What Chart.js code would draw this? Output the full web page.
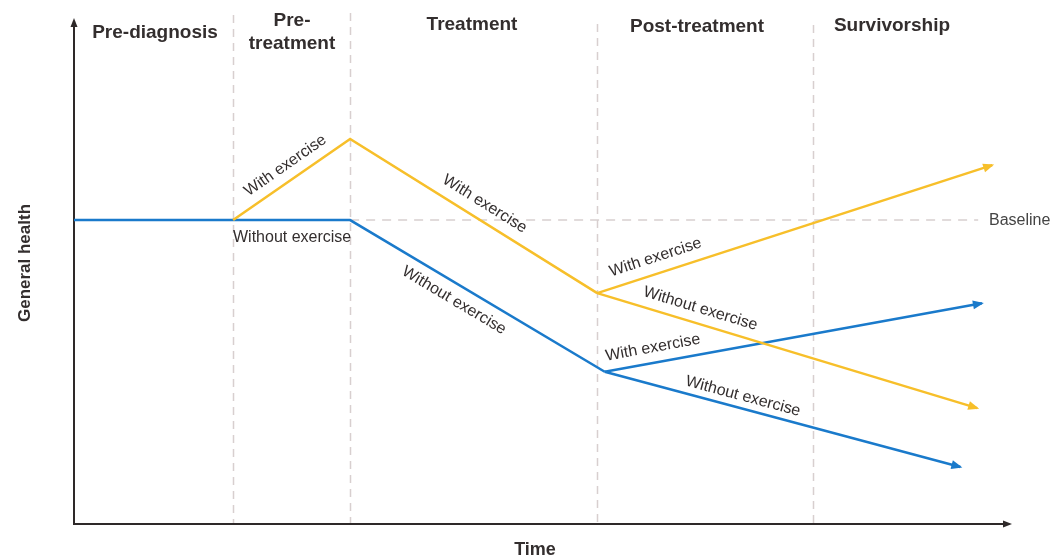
<!DOCTYPE html>
<html>
<head>
<meta charset="utf-8">
<script src="https://cdn.jsdelivr.net/npm/chart.js@4"></script>
<style>
  html, body { margin: 0; padding: 0; background: #ffffff; }
  #wrap { position: relative; width: 1052px; height: 560px; }
</style>
</head>
<body>
<div id="wrap"><canvas id="c"></canvas></div>
<script>
// ---- Data (time units 0-100, general health units 0-100) ----
const phaseNames = ['Pre-diagnosis', 'Pre-\ntreatment', 'Treatment', 'Post-treatment', 'Survivorship'];
const phaseBounds = [17, 29.5, 55.9, 79];
const baselineHealth = 60.3;
const baselineEnd = 96.6;

const yellowTime   = [17, 29.5, 55.9];
const yellowHealth = [60.3, 76.4, 45.8];
const yellowUpTime   = [55.9, 98.1];
const yellowUpHealth = [45.8, 71.2];
const yellowDownTime   = [55.9, 96.5];
const yellowDownHealth = [45.8, 23.0];

const blueTime   = [0, 29.5, 56.7];
const blueHealth = [60.3, 60.3, 30.2];
const blueUpTime   = [56.7, 97.0];
const blueUpHealth = [30.2, 43.8];
const blueDownTime   = [56.7, 94.7];
const blueDownHealth = [30.2, 11.3];

const withLabel = 'With exercise';
const withoutLabel = 'Without exercise';

const YELLOW = '#F7BF2A';
const BLUE = '#1A7ACB';
const TEXT = '#332e2e';
const DASH = '#d8cfcf';

function pts(xs, ys) { return xs.map((x, i) => ({ x: x, y: ys[i] })); }

function ds(xs, ys, color, arrow, labels) {
  return {
    data: pts(xs, ys), borderColor: color, backgroundColor: color,
    borderWidth: 2.5, pointRadius: 0, showLine: true, tension: 0,
    arrow: arrow, segLabels: labels
  };
}

// labels: [segmentIndex, text, fraction along segment, perpendicular offset px]
const datasets = [
  ds(yellowTime, yellowHealth, YELLOW, false, [[0, withLabel, 0.52, -15], [1, withLabel, 0.51, -16]]),
  ds(yellowUpTime, yellowUpHealth, YELLOW, true, [[0, withLabel, 0.16, -16]]),
  ds(yellowDownTime, yellowDownHealth, YELLOW, true, [[0, withoutLabel, 0.26, -15]]),
  ds(blueTime, blueHealth, BLUE, false, [[0, withoutLabel, 0.79, 18], [1, withoutLabel, 0.44, 16]]),
  ds(blueUpTime, blueUpHealth, BLUE, true, [[0, withLabel, 0.135, -15]]),
  ds(blueDownTime, blueDownHealth, BLUE, true, [[0, withoutLabel, 0.38, -12]])
];

const decor = {
  id: 'decor',
  beforeDatasetsDraw(chart) {
    const ctx = chart.ctx, xs = chart.scales.x, ys = chart.scales.y, a = chart.chartArea;
    ctx.save();
    // phase dividers
    ctx.strokeStyle = DASH; ctx.lineWidth = 1.5; ctx.setLineDash([8, 6]);
    const tops = [15, 13, 24, 25];
    phaseBounds.forEach((b, i) => {
      const px = Math.round(xs.getPixelForValue(b)) + 0.5;
      ctx.beginPath(); ctx.moveTo(px, tops[i]); ctx.lineTo(px, a.bottom); ctx.stroke();
    });
    // baseline
    const by = ys.getPixelForValue(baselineHealth);
    ctx.setLineDash([9, 7]);
    ctx.beginPath(); ctx.moveTo(xs.getPixelForValue(phaseBounds[1]), by);
    ctx.lineTo(xs.getPixelForValue(baselineEnd), by); ctx.stroke();
    ctx.setLineDash([]);
    ctx.fillStyle = '#444'; ctx.font = '16px "Liberation Sans", Arial, sans-serif';
    ctx.textAlign = 'left'; ctx.textBaseline = 'middle';
    ctx.fillText('Baseline', 989, by + 1);

    // axes
    ctx.strokeStyle = '#2e2929'; ctx.fillStyle = '#2e2929'; ctx.lineWidth = 2;
    ctx.beginPath(); ctx.moveTo(a.left, a.top + 4); ctx.lineTo(a.left, a.bottom); ctx.lineTo(a.right - 4, a.bottom); ctx.stroke();
    ctx.beginPath(); ctx.moveTo(a.left, a.top - 2); ctx.lineTo(a.left - 3.5, a.top + 7); ctx.lineTo(a.left + 3.5, a.top + 7); ctx.closePath(); ctx.fill();
    ctx.beginPath(); ctx.moveTo(a.right + 2, a.bottom); ctx.lineTo(a.right - 7, a.bottom - 3.5); ctx.lineTo(a.right - 7, a.bottom + 3.5); ctx.closePath(); ctx.fill();

    // phase titles
    ctx.fillStyle = TEXT; ctx.font = 'bold 19px "Liberation Sans", Arial, sans-serif';
    ctx.textAlign = 'center'; ctx.textBaseline = 'middle';
    const cx = [155, 292, 472, 697, 892];
    const cy = [33, 21, 25, 27, 26];
    phaseNames.forEach((n, i) => {
      n.split('\n').forEach((ln, j) => ctx.fillText(ln, cx[i], cy[i] + j * 23));
    });
    // axis titles
    ctx.font = 'bold 18px "Liberation Sans", Arial, sans-serif';
    ctx.fillText('Time', 535, 550);
    ctx.save(); ctx.translate(25, 263); ctx.rotate(-Math.PI / 2);
    ctx.font = 'bold 17px "Liberation Sans", Arial, sans-serif';
    ctx.fillText('General health', 0, 0); ctx.restore();
    ctx.restore();
  },
  afterDatasetsDraw(chart) {
    const ctx = chart.ctx;
    ctx.save();
    chart.data.datasets.forEach((d, di) => {
      const meta = chart.getDatasetMeta(di);
      const p = meta.data.map(e => ({ x: e.x, y: e.y }));
      // arrowhead
      if (d.arrow) {
        const e = p[p.length - 1], s = p[p.length - 2];
        const ang = Math.atan2(e.y - s.y, e.x - s.x);
        ctx.save(); ctx.translate(e.x, e.y); ctx.rotate(ang);
        ctx.fillStyle = d.borderColor;
        ctx.beginPath(); ctx.moveTo(2, 0); ctx.lineTo(-9, -4.5); ctx.lineTo(-9, 4.5); ctx.closePath(); ctx.fill();
        ctx.restore();
      }
      // segment labels
      ctx.fillStyle = TEXT; ctx.font = '16px "Liberation Sans", Arial, sans-serif';
      ctx.textAlign = 'center'; ctx.textBaseline = 'middle';
      (d.segLabels || []).forEach(([si, txt, t, off]) => {
        const s = p[si], e = p[si + 1];
        const ang = Math.atan2(e.y - s.y, e.x - s.x);
        const x = s.x + (e.x - s.x) * t, y = s.y + (e.y - s.y) * t;
        ctx.save(); ctx.translate(x, y); ctx.rotate(ang);
        ctx.fillText(txt, 0, off); ctx.restore();
      });
    });
    ctx.restore();
  }
};

new Chart(document.getElementById('c'), {
  type: 'scatter',
  data: { datasets: datasets },
  options: {
    responsive: true, maintainAspectRatio: false, animation: false,
    layout: { padding: { left: 74, right: 42, top: 20, bottom: 36 } },
    plugins: { legend: { display: false }, tooltip: { enabled: false } },
    scales: {
      x: { type: 'linear', min: 0, max: 100, display: false },
      y: { type: 'linear', min: 0, max: 100, display: false }
    }
  },
  plugins: [decor]
});
</script>
</body>
</html>
